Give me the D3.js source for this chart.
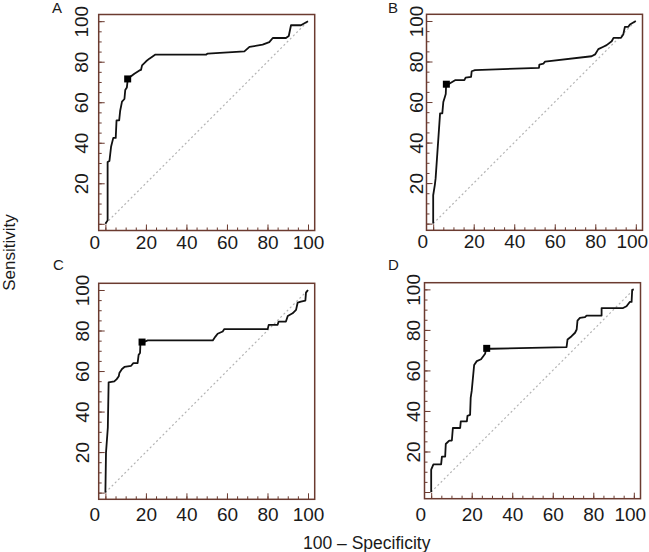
<!DOCTYPE html>
<html>
<head>
<meta charset="utf-8">
<script src="https://cdn.jsdelivr.net/npm/d3@7"></script>
<style>
body { margin:0; background:#fff; }
svg { display:block; font-family:"Liberation Sans", Arial, sans-serif; }
</style>
</head>
<body>
<svg width="649" height="552"></svg>
<script>
// ROC curves as [100 - specificity, sensitivity]
var rocA = [[0,0],[1.1,1.7],[1.1,30.5],[2,31],[2.8,38],[3.9,42.4],[5.1,42.4],[5.5,51],[6.8,51],[7.3,55.8],[8.2,60.3],[9.4,61.6],[9.8,66],[10.6,67.3],[10.9,70],[11,71.5],[12,72.3],[14.3,74.1],[16.8,75.7],[17.6,76],[18.1,78.2],[20.1,80.2],[21.7,81.5],[24.7,83.5],[49.7,83.5],[50.5,84],[68.6,85.1],[71.1,87.3],[77.6,88.4],[80.9,89.7],[82.6,91.7],[89.1,91.7],[90.5,92.7],[91.6,98],[96.5,98],[100,100]];
var rocB = [[0,0],[0,14],[0.8,19],[1.2,22.3],[3.4,54.4],[4.5,54.4],[5,60],[5.8,62.6],[6.2,64],[6.4,68.8],[7.5,68.8],[10.8,70.8],[15.4,70.8],[16,72],[18.7,72.4],[19,75.2],[20.6,75.7],[52.2,76.9],[52.4,78.5],[54.4,79],[55.2,79.9],[78.2,82.6],[79.9,83.5],[81.5,86.1],[84,87.3],[85.6,88.1],[88.1,90],[89,91.7],[92.7,91.7],[93.8,93.3],[94.6,97.1],[96.3,97.1],[97.1,98.3],[100,100]];
var rocC = [[0,0],[0.3,19.7],[1.2,32],[1.6,54.4],[4.4,54.9],[5.6,56],[6.6,57.4],[6.9,59],[8.2,61],[9.4,62],[12.7,62.6],[13.8,63.9],[15.9,63.9],[16.4,68],[17.1,68.9],[17.3,73.8],[18.1,74.3],[19.7,74.6],[20.9,75.1],[53,75.1],[54.3,77],[55.4,78.4],[57.9,79.5],[58.7,80.7],[80.1,80.7],[80.6,82.8],[85,82.8],[85.5,84.4],[89.1,84.4],[90,87.2],[92.4,88.5],[94.1,90.2],[94.9,93.8],[96.5,94.3],[98.7,94.8],[99,98.7],[100,100]];
var rocD = [[0,0],[0,11],[1.1,13.6],[4.9,13.6],[5.3,17.5],[6.9,17.5],[7.2,23.7],[8.9,25.4],[10.2,25.4],[10.7,31.6],[14.3,31.6],[14.6,34.9],[17.6,34.9],[17.9,37.6],[19.2,38.1],[19.5,46.6],[20,49.9],[21.2,62.7],[22.5,64.6],[24.6,65.5],[25.8,67.1],[26.6,68.2],[27.1,70.7],[29.9,70.7],[66.8,71.5],[67.3,75.3],[69.3,76.9],[71,78.6],[71.8,80.2],[72.2,84.6],[73.4,85.9],[75.9,86.3],[76.7,87.1],[84.1,87.1],[84.1,90.8],[94.7,90.8],[96.4,91.7],[98,93.8],[98.9,93.8],[99.2,99.8],[100,100]];

// optimal criterion points
var cutA = [11,71.5];
var cutB = [6.5,68.8];
var cutC = [18.1,74.3];
var cutD = [27.4,70.9];

var panelLetters = ["A","B","C","D"];
var xTickLabels = [0,20,40,60,80,100];
var yTickLabels = [20,40,60,80,100];

// layout of the four plot boxes
var layout = [
    {left:98.7, top:14.5, yGap:11, xGap:18, endDx:0},
    {left:426.5, top:14.3, yGap:4, xGap:18, endDx:-4},
    {left:98.7, top:283.3, yGap:9.5, xGap:22, endDx:0},
    {left:424.5, top:282.7, yGap:5, xGap:22, endDx:-4}
];
var curves = [rocA, rocB, rocC, rocD];
var cuts = [cutA, cutB, cutC, cutD];

var size = 216;
var frameColor = "#6b3b30";

var svg = d3.select("svg");

var x = d3.scaleLinear().domain([-3.3,103.3]).range([0,size]);
var y = d3.scaleLinear().domain([-3.3,103.3]).range([size,0]);

var minor = d3.range(0,101,5);
var line = d3.line().x(function(d){ return x(d[0]) }).y(function(d){ return y(d[1]) });

layout.forEach(function(p, i)
{
    var g = svg.append("g")
        .attr("transform","translate("+p.left+","+p.top+")");

    // inward ticks, minor then major
    var bx = g.append("g").attr("transform","translate(0,"+size+")");
    bx.append("g").call(d3.axisBottom(x).tickValues(minor).tickSize(-3).tickFormat(""));
    bx.append("g").call(d3.axisBottom(x).tickValues(xTickLabels).tickSize(-6).tickFormat(""));
    var ly = g.append("g");
    ly.append("g").call(d3.axisLeft(y).tickValues(minor).tickSize(-3).tickFormat(""));
    ly.append("g").call(d3.axisLeft(y).tickValues([0].concat(yTickLabels)).tickSize(-6).tickFormat(""));
    g.selectAll(".domain").remove();
    g.selectAll(".tick line").attr("stroke",frameColor).attr("stroke-width",1);

    // tick labels
    var xl = g.append("g").attr("transform","translate(0,"+size+")")
        .call(d3.axisBottom(x).tickValues(xTickLabels).tickSize(0));
    xl.selectAll("text")
        .attr("y",p.xGap).attr("dy",0)
        .attr("dx",function(d){ return d == 0 ? -11 : (d == 100 ? p.endDx : 0) });
    var yl = g.append("g").call(d3.axisLeft(y).tickValues(yTickLabels).tickSize(0));
    yl.selectAll("text")
        .attr("transform","rotate(-90)")
        .attr("x",0).attr("y",-p.yGap).attr("dy",0)
        .attr("text-anchor","middle");
    g.selectAll(".domain").remove();
    g.selectAll(".tick text")
        .attr("font-size",19)
        .attr("fill","#1a1a1a")
        .attr("font-family","Liberation Sans, Arial, sans-serif");

    // reference diagonal
    g.append("line")
        .attr("x1",x(0)).attr("y1",y(0))
        .attr("x2",x(100)).attr("y2",y(100))
        .attr("stroke","#b4b4b4").attr("stroke-width",1.2)
        .attr("stroke-dasharray","2,2.5");

    // ROC curve
    g.append("path")
        .datum(curves[i])
        .attr("d",line)
        .attr("fill","none")
        .attr("stroke","#111")
        .attr("stroke-width",1.8)
        .attr("stroke-linejoin","round");

    // criterion point
    g.append("rect")
        .attr("x",x(cuts[i][0])-3.5).attr("y",y(cuts[i][1])-3.5)
        .attr("width",7).attr("height",7)
        .attr("fill","#000");

    // frame
    g.append("rect")
        .attr("width",size).attr("height",size)
        .attr("fill","none")
        .attr("stroke",frameColor).attr("stroke-width",1.5);
});

// panel letters
var letterPos = [[52,13],[388,13],[53,270],[388,270]];
svg.selectAll(".letter")
    .data(panelLetters)
    .enter()
    .append("text")
    .attr("class","letter")
    .attr("x",function(d,i){ return letterPos[i][0] })
    .attr("y",function(d,i){ return letterPos[i][1] })
    .attr("font-size",15)
    .attr("fill","#1a1a1a")
    .text(function(d){ return d });

// axis titles
svg.append("text")
    .attr("transform","translate(15,252.5) rotate(-90)")
    .attr("text-anchor","middle")
    .attr("font-size",17)
    .attr("fill","#1a1a1a")
    .text("Sensitivity");

svg.append("text")
    .attr("x",303).attr("y",549)
    .attr("font-size",17.5)
    .attr("fill","#1a1a1a")
    .text("100 – Specificity");
</script>
</body>
</html>
